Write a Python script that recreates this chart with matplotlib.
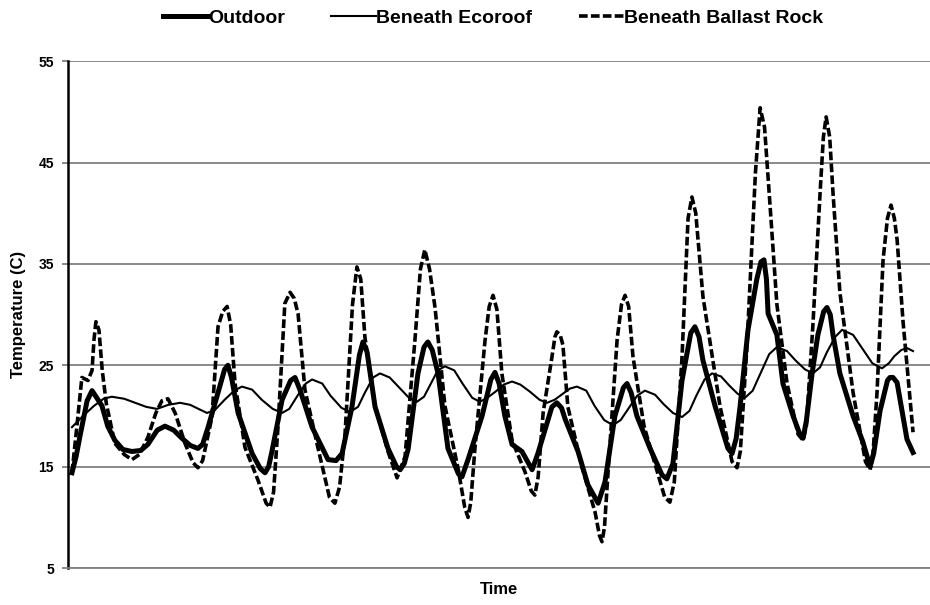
import matplotlib
matplotlib.use("Agg")
import matplotlib.pyplot as plt

plt.rcParams['font.family'] = ['Liberation Sans', 'DejaVu Sans']

# time in hours from start of record
out_t = [0, 1.5, 2.9, 5.5, 7.3, 9, 10.9, 13, 15.6, 18.5, 21.8, 25, 27.6, 31, 33.8, 37, 40,
         43, 45.8, 47.5, 49.5, 53.1, 55.5, 56.7, 58, 60.4, 65.5, 68.5, 70.2, 71.5, 72.7,
         76.4, 79.5, 81.1, 83, 87.3, 93.1, 96, 98.2, 101.8, 104.5, 105.8, 107.3, 110.2,
         114.9, 118, 119.3, 120.8, 122.2, 125.8, 128, 129.4, 131, 133.1, 136.7, 140.5,
         141.8, 144, 149.1, 152.3, 153.8, 155.3, 157.4, 160, 163.6, 167.3, 169.4, 174.5,
         176.3, 178, 179.3, 184, 187.6, 191.3, 193.8, 197.4, 200.5, 201.8, 203.3, 205.4,
         210.2, 214.5, 216.3, 218.5, 221.8, 225, 226.5, 228, 229.4, 233.8, 238.5, 240,
         241.5, 242.9, 245.8, 249, 250.5, 251.6, 252.5, 253.1, 256.3, 258.5, 262.2,
         264.5, 265.8, 267, 269.1, 271.2, 273.3, 274.5, 275.7, 276.7, 279.2, 284, 287.5,
         290.2, 291.5, 293.8, 296.5, 297.4, 298.5, 300, 303.6, 305.8]
outdoor = [14.4, 16.0, 18.0, 21.5, 22.5, 21.8, 21.0, 19.0, 17.6, 16.7, 16.5, 16.6, 17.2, 18.6,
           19.0, 18.6, 17.8, 17.1, 16.8, 17.2, 18.9, 22.3, 24.6, 25.0, 23.8, 20.3, 16.3,
           14.8, 14.4, 15.0, 16.5, 21.6, 23.5, 23.8, 22.5, 18.9, 15.7, 15.6, 16.3, 20.9,
           26.0, 27.3, 26.3, 20.9, 16.8, 15.0, 14.7, 15.3, 16.7, 24.2, 26.8, 27.3, 26.5,
           24.2, 16.8, 14.3, 14.0, 15.7, 20.0, 23.6, 24.3, 23.2, 20.0, 17.2, 16.5, 14.7,
           16.3, 20.9, 21.3, 20.8, 19.7, 16.5, 13.2, 11.4, 13.5, 20.0, 22.8, 23.2, 22.3,
           20.0, 16.8, 14.2, 13.8, 15.3, 23.5, 28.2, 28.8, 27.8, 25.5, 21.0, 16.8, 16.3,
           17.8, 20.9, 28.5, 33.5, 35.2, 35.4, 33.5, 30.1, 28.0, 23.2, 20.0, 18.3, 17.8,
           19.5, 24.2, 28.0, 30.3, 30.7, 30.0, 28.0, 24.2, 20.0, 17.5, 15.0, 16.3, 20.5,
           23.5, 23.8, 23.8, 23.3, 17.7, 16.4]

eco_t = [0, 4, 8, 11.5, 14.5, 19, 23, 27, 30.9, 35, 39.3, 43, 46, 49.1, 52, 55.5, 59, 61.8,
         65.5, 69, 73, 76.4, 79, 82, 85, 87.3, 91, 94, 98, 101.1, 104, 106.5, 109.5, 112,
         115.5, 119, 122.5, 125.4, 128, 130.5, 133, 135.6, 139, 142, 145.5, 148.3, 151,
         154, 157, 160, 163, 166.5, 170, 172.7, 175.5, 178, 181, 183.6, 187, 190, 193.5,
         196.7, 199.5, 202.5, 205.5, 208.3, 212, 215, 218.5, 221.8, 224.5, 227, 230,
         232.7, 236, 239, 242, 244.7, 247.5, 250.5, 253.5, 256.3, 260, 263, 266.5, 269.4,
         272, 274.5, 277.5, 280, 284, 287.5, 291, 294.5, 297, 299, 301.5, 303.6, 305.8]
ecoroof = [18.9, 20.0, 21.0, 21.7, 21.9, 21.7, 21.3, 20.9, 20.7, 21.1, 21.3, 21.1, 20.7, 20.3,
           20.6, 21.6, 22.5, 22.9, 22.6, 21.6, 20.7, 20.3, 20.7, 22.0, 23.2, 23.6, 23.2,
           22.0, 20.8, 20.4, 20.9, 22.3, 23.8, 24.2, 23.8, 22.8, 21.8, 21.4, 21.9, 23.2,
           24.5, 24.9, 24.5, 23.2, 21.8, 21.4, 21.8, 22.4, 23.1, 23.4, 23.1, 22.4, 21.6,
           21.3, 21.6, 22.1, 22.7, 22.9, 22.5, 21.0, 19.6, 19.1, 19.6, 20.8, 22.0, 22.5,
           22.1, 21.2, 20.3, 19.9, 20.5, 22.0, 23.6, 24.2, 23.9, 23.0, 22.2, 21.8, 22.5,
           24.3, 26.1, 26.8, 26.4, 25.5, 24.6, 24.2, 24.8, 26.3, 27.8, 28.5, 28.0, 26.6,
           25.2, 24.7, 25.2, 25.9, 26.5, 26.7, 26.4]

rock_t = [0, 1.8, 3.6, 5.8, 7.3, 8.0, 8.7, 9.8, 11, 12.5, 15.6, 19, 21.8, 24.5, 27.6, 30.5,
          32.7, 34.9, 37.5, 41.1, 44, 45.8, 47.5, 50.9, 53.1, 54.8, 56.4, 57.7, 59.3, 62.9,
          67.6, 70.6, 72, 73.3, 74.9, 77.4, 79.3, 80.8, 82.2, 84.7, 89.4, 93.6, 95.6, 97.3,
          99.3, 102, 103.6, 105, 106.5, 110.2, 114.9, 118.2, 121.1, 124.7, 126.7, 128.3,
          130, 132, 135.6, 140.4, 142.8, 144, 145, 146.5, 150.2, 151.7, 153.1, 154.5,
          156.3, 160, 164.7, 167, 168.3, 169.5, 171.3, 174.5, 175.6, 176.3, 177.5, 178.5,
          180.3, 185.4, 190.2, 191.8, 192.7, 193.6, 194.9, 198.2, 199.8, 201.1, 202.4,
          204, 208, 211.3, 215.5, 217.4, 219, 221.8, 224, 225.4, 226.8, 229.4, 235.6, 240,
          241.8, 243, 245.4, 248.5, 250.2, 251.8, 253.8, 256.3, 260, 264, 265.8, 267,
          269.4, 272, 273.2, 274.2, 275.5, 276.7, 279.2, 284, 288.5, 290.2, 291.3, 292.7,
          294.9, 296.5, 297.8, 299, 300, 302.2, 305.8]
rock = [14.4, 19.0, 23.8, 23.5, 24.5, 27.5, 29.3, 28.5, 24.5, 21.2, 17.3, 16.2, 15.7, 16.2,
        17.9, 20.3, 21.5, 21.7, 20.3, 17.3, 15.4, 14.9, 15.6, 19.9, 28.8, 30.3, 30.8, 29.0,
        23.2, 16.9, 13.7, 11.4, 11.0, 12.5, 18.9, 31.1, 32.2, 31.6, 30.1, 22.6, 16.9, 12.0,
        11.4, 13.0, 18.3, 31.0, 34.7, 33.5, 27.8, 21.0, 16.5, 13.9, 16.0, 27.5, 34.5, 36.4,
        34.5, 30.7, 21.0, 14.8, 11.0, 10.0, 11.5, 16.8, 27.5, 30.8, 31.9, 30.5, 24.2, 17.6,
        14.5, 12.6, 12.2, 14.0, 20.3, 25.8, 27.8, 28.3, 28.0, 27.0, 20.9, 15.0, 10.5, 8.2,
        7.6, 9.0, 14.4, 27.5, 31.0, 31.9, 30.8, 25.8, 19.0, 15.9, 12.0, 11.5, 13.5, 25.8,
        39.5, 41.6, 40.0, 31.8, 21.0, 15.5, 14.9, 16.5, 26.8, 44.0, 50.4, 48.5, 40.8, 31.0,
        23.2, 18.2, 17.6, 19.0, 29.0, 42.0, 47.5, 49.5, 47.5, 42.0, 32.2, 22.3, 15.5, 14.7,
        16.5, 22.3, 35.4, 39.5, 40.8, 39.5, 37.4, 29.2, 18.4]

yticks = [5, 15, 25, 35, 45, 55]

fig = plt.figure(figsize=(9.3, 6.05), dpi=100)
ax = fig.add_axes([0.0731, 0.061, 0.927, 0.838])

ax.plot(out_t, outdoor, color="black", lw=3.6, solid_joinstyle="round", label="Outdoor", zorder=3)
ax.plot(eco_t, ecoroof, color="black", lw=1.5, label="Beneath Ecoroof", zorder=4)
ax.plot(rock_t, rock, color="black", lw=2.6, linestyle=(0, (2.4, 0.9)), label="Beneath Ballast Rock", zorder=2)

ax.set_ylim(5, 55)
ax.set_xlim(-1.45, 312)
ax.set_yticks(yticks)
ax.set_xticks([])
ax.yaxis.grid(True, color="#808080", lw=1.3)
ax.set_axisbelow(True)
for s in ["top", "right"]:
    ax.spines[s].set_visible(False)
ax.spines["bottom"].set_color("#808080")
ax.spines["bottom"].set_linewidth(1.3)
ax.spines["left"].set_color("black")
ax.spines["left"].set_linewidth(1.8)
ax.tick_params(axis="y", length=4, width=1.3, color="#808080", labelsize=10, pad=6)
for lb in ax.get_yticklabels():
    lb.set_fontweight("bold")

ax.set_ylabel("Temperature (C)", fontsize=12, fontweight="bold", labelpad=9)
ax.set_xlabel("Time", fontsize=12, fontweight="bold", labelpad=10)

fig.legend(loc="center", bbox_to_anchor=(0.53, 0.97), ncol=3, frameon=False,
           prop={"weight": "bold", "size": 14}, handlelength=2.3, handletextpad=0.0,
           columnspacing=2.4)

fig.savefig("out.png", dpi=100)
